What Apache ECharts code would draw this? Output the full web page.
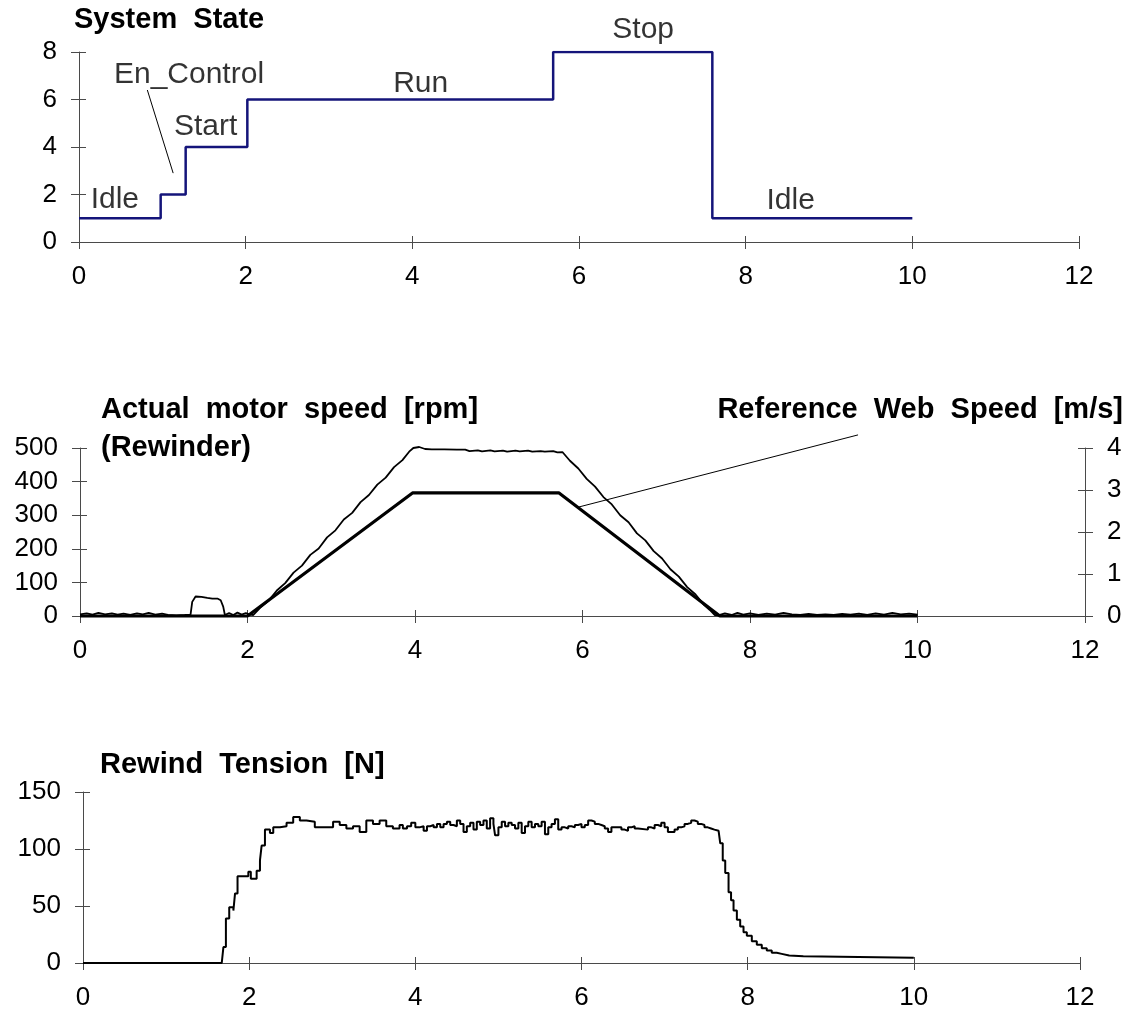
<!DOCTYPE html>
<html><head><meta charset="utf-8">
<script src="https://cdn.jsdelivr.net/npm/echarts@6/dist/echarts.min.js"></script>
<style>html,body{margin:0;padding:0;background:#fff}#c{width:1134px;height:1016px}</style>
</head><body><div id="c"></div>
<script>
// ---- axis ranges [min, max, interval]
const timeRange = [0, 12, 2];
const stateRange = [0, 8, 2];
const rpmRange = [0, 500, 100];
const webRange = [0, 4, 1];
const tensionRange = [0, 150, 50];

// ---- System state (step function)
const stateTimes  = [0, 0.98, 1.28, 2.02, 5.69, 7.60, 10];
const stateValues = [1, 2,    4,    6,    8,    1,    1];
const stateLabels = ['Idle', 'En_Control', 'Start', 'Run', 'Stop', 'Idle'];
const stateLabelX = [0.43, 1.32, 1.52, 4.10, 6.77, 8.54];
const stateLabelY = [1.77, 7.03, 4.84, 6.65, 8.93, 1.73];
const enControlLeader = [[0.82, 6.4], [1.13, 2.9]];

// ---- Actual motor speed [rpm] (Rewinder)
const motorSpeed = [
 [0,5],[0.08,8],[0.15,4],[0.22,9],[0.3,5],[0.38,8],[0.45,4],[0.52,7],[0.6,3],[0.68,8],[0.75,5],[0.82,9],[0.9,4],[0.98,7],
 [1.05,3],[1.15,2],[1.25,3],[1.32,4],[1.34,42],[1.38,58],[1.45,57],[1.52,54],[1.58,52],[1.64,52],[1.68,47],[1.71,28],[1.73,3],
 [1.78,9],[1.83,3],[1.88,10],[1.93,4],[1.98,9],[2.03,4],[2.07,3],
 [2.15,24],[2.25,45],[2.35,76],[2.45,98],[2.55,129],[2.65,150],[2.75,182],[2.85,201],[2.95,234],[3.05,255],[3.15,287],
 [3.25,307],[3.35,339],[3.45,360],[3.55,391],[3.65,412],[3.75,443],[3.85,464],[3.93,489],[3.98,500],[4.05,503],[4.12,497],
 [4.2,496],[4.35,496],[4.5,495],[4.6,495],[4.65,491],[4.75,493],[4.8,490],[4.9,493],[4.95,490],[5.05,492],[5.1,489],
 [5.2,492],[5.25,490],[5.35,492],[5.4,489],[5.5,491],[5.55,489],[5.65,491],[5.7,487],[5.76,488],
 [5.85,462],[5.95,439],[6.05,408],[6.15,385],[6.25,354],[6.35,332],[6.45,300],[6.55,279],[6.65,246],[6.75,225],[6.85,193],
 [6.95,171],[7.05,139],[7.15,117],[7.25,86],[7.35,64],[7.45,33],[7.52,18],[7.58,3],[7.62,2],
 [7.7,8],[7.78,3],[7.85,9],[7.92,4],[8.0,8],[8.1,3],[8.2,7],[8.3,4],[8.4,9],[8.5,5],[8.6,3],[8.7,6],[8.8,3],[8.9,5],
 [9.0,3],[9.1,6],[9.2,4],[9.3,7],[9.4,3],[9.5,8],[9.6,4],[9.7,9],[9.8,5],[9.9,7],[10,4]
];
// ---- Reference web speed [m/s]
const refTimes  = [0, 2.0, 3.97, 5.72, 7.64, 10];
const refSpeeds = [0, 0,   2.93, 2.93, 0,    0];
const refLeader = [[5.95, 324], [9.29, 539]];

// ---- Rewind tension [N]
const tension = [
 [0,0],[1.67,0],[1.69,14],[1.72,39],[1.76,49],[1.81,46],[1.83,61],[1.86,76],[1.92,76],[1.99,80],[2.02,74],[2.09,81],
 [2.13,90],[2.15,103],[2.19,117],[2.25,114],[2.29,119],[2.37,120],[2.45,123],[2.53,128],[2.61,125],[2.69,124],[2.79,119],
 [2.97,119],[3.01,124],[3.09,121],[3.17,118],[3.25,120],[3.33,115],[3.41,125],[3.49,122],[3.57,125],[3.65,120],[3.73,118],
 [3.81,121],[3.85,118],[3.9,120],[3.95,123],[4.0,119],[4.05,120],[4.1,116],[4.14,120],[4.18,121],[4.22,119],[4.26,122],
 [4.3,119],[4.34,122],[4.38,124],[4.42,121],[4.46,120],[4.5,125],[4.54,122],[4.58,115],[4.62,120],[4.66,123],[4.7,117],
 [4.74,124],[4.78,121],[4.82,125],[4.86,118],[4.9,127],[4.94,122],[4.96,112],[5.0,119],[5.04,124],[5.08,120],[5.12,123],
 [5.16,121],[5.2,118],[5.24,123],[5.28,114],[5.32,120],[5.36,124],[5.4,119],[5.44,122],[5.48,120],[5.52,124],[5.56,113],
 [5.6,119],[5.64,122],[5.68,126],[5.72,117],[5.76,119],[5.8,118],[5.84,120],[5.88,119],[5.92,121],[5.96,122],[6.0,119],
 [6.04,121],[6.08,125],[6.12,124],[6.16,122],[6.2,121],[6.24,120],[6.28,118],[6.32,115],[6.36,119],[6.44,119],[6.48,117],
 [6.52,116],[6.56,119],[6.6,120],[6.64,118],[6.68,117],[6.8,119],[6.84,118],[6.88,121],[6.92,120],[6.96,123],[7.0,119],
 [7.04,115],[7.12,117],[7.16,119],[7.2,120],[7.24,122],[7.28,123],[7.32,125],[7.36,124],[7.4,122],[7.44,121],[7.48,119],
 [7.52,118],[7.56,117],[7.6,116],[7.65,116],[7.67,105],[7.7,90],[7.73,79],[7.77,62],[7.8,55],[7.83,46],[7.87,38],[7.91,32],
 [7.95,27],[7.99,24],[8.05,19],[8.11,16],[8.17,13],[8.23,11],[8.29,9],[8.35,8],[8.41,6.5],[8.5,6],[8.67,4.6],[10,4.6]
];

const FONT = "'Liberation Sans', Arial, Helvetica, sans-serif";
const AX = '#4a4a4a';

function xAx(gridIndex, dup) {
  return {
    type: 'value', gridIndex, min: timeRange[0], max: timeRange[1], interval: timeRange[2], position: 'bottom',
    axisLine: { show: !dup, onZero: false, lineStyle: { color: AX, width: 1 } },
    axisTick: { show: true, inside: dup, length: dup ? 6 : 7, lineStyle: { color: AX, width: 1 } },
    axisLabel: { show: !dup, margin: 22, fontSize: 26, color: '#000', fontFamily: FONT },
    splitLine: { show: false }
  };
}
function yAx(gridIndex, range, pos, dup) {
  return {
    type: 'value', gridIndex, min: range[0], max: range[1], interval: range[2], position: pos,
    axisLine: { show: !dup, onZero: false, lineStyle: { color: AX, width: 1 } },
    axisTick: { show: true, inside: dup, length: dup ? 7 : 8, lineStyle: { color: AX, width: 1 } },
    axisLabel: { show: !dup, margin: 22, fontSize: 26, color: '#000', fontFamily: FONT },
    splitLine: { show: false }
  };
}
const titleStyle = { fontSize: 29, fontWeight: 'bold', color: '#000', fontFamily: FONT, lineHeight: 38 };

const chart = echarts.init(document.getElementById('c'), null, { renderer: 'canvas' });
chart.setOption({
  backgroundColor: '#fff',
  animation: false,
  title: [
    { text: 'System  State', left: 74, top: 1, padding: 0, textStyle: titleStyle },
    { text: 'Actual  motor  speed  [rpm]\n(Rewinder)', left: 101, top: 391, padding: 0, textStyle: titleStyle },
    { text: 'Reference  Web  Speed  [m/s]', right: 11, top: 391, padding: 0, textStyle: titleStyle },
    { text: 'Rewind  Tension  [N]', left: 100, top: 746, padding: 0, textStyle: titleStyle }
  ],
  grid: [
    { left: 79, top: 52, width: 1000, height: 190 },
    { left: 80, top: 448, width: 1005, height: 168 },
    { left: 83, top: 792, width: 997, height: 171 }
  ],
  xAxis: [xAx(0, false), xAx(0, true), xAx(1, false), xAx(1, true), xAx(2, false), xAx(2, true)],
  yAxis: [
    yAx(0, stateRange, 'left', false), yAx(0, stateRange, 'left', true),
    yAx(1, rpmRange, 'left', false), yAx(1, rpmRange, 'left', true),
    yAx(1, webRange, 'right', false), yAx(1, webRange, 'right', true),
    yAx(2, tensionRange, 'left', false), yAx(2, tensionRange, 'left', true)
  ],
  series: [
    { type: 'line', name: 'System State', xAxisIndex: 0, yAxisIndex: 0, step: 'end', symbol: 'none',
      data: stateTimes.map((t, i) => [t, stateValues[i]]),
      lineStyle: { color: '#14147a', width: 2.5 }, silent: true },
    { type: 'scatter', xAxisIndex: 0, yAxisIndex: 0, symbolSize: 0, clip: false, silent: true,
      data: stateLabels.map((n, i) => ({ name: n, value: [stateLabelX[i], stateLabelY[i]] })),
      label: { show: true, position: 'inside', formatter: p => p.name, fontSize: 30, color: '#000', fontFamily: FONT } },
    { type: 'line', xAxisIndex: 0, yAxisIndex: 0, symbol: 'none', clip: false, silent: true,
      data: enControlLeader, lineStyle: { color: '#000', width: 1 } },

    { type: 'line', name: 'Actual motor speed', xAxisIndex: 2, yAxisIndex: 2, symbol: 'none', clip: false, silent: true,
      data: motorSpeed, lineStyle: { color: '#000', width: 1.8 } },
    { type: 'line', name: 'Reference Web Speed', xAxisIndex: 2, yAxisIndex: 4, symbol: 'none', clip: false, silent: true,
      data: refTimes.map((t, i) => [t, refSpeeds[i]]), lineStyle: { color: '#000', width: 3.2 } },
    { type: 'line', xAxisIndex: 2, yAxisIndex: 2, symbol: 'none', clip: false, silent: true,
      data: refLeader, lineStyle: { color: '#000', width: 1 } },

    { type: 'line', name: 'Rewind Tension', xAxisIndex: 4, yAxisIndex: 6, step: 'end', symbol: 'none', clip: false, silent: true,
      data: tension, lineStyle: { color: '#000', width: 2 } }
  ]
});
</script>
</body></html>
